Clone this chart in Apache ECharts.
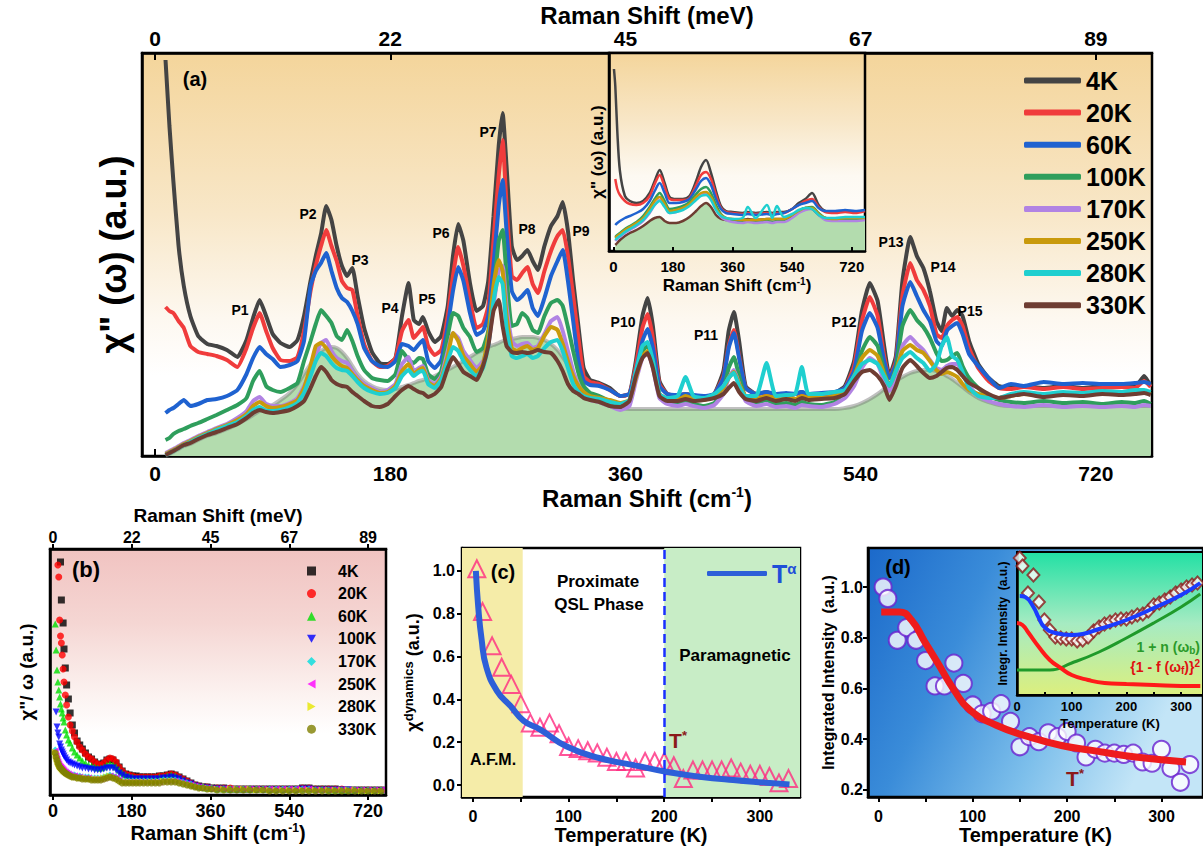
<!DOCTYPE html>
<html>
<head>
<meta charset="utf-8">
<title>Raman spectra</title>
<script src="https://cdn.jsdelivr.net/npm/echarts@6.0.0/dist/echarts.min.js"></script>
<style>
html,body{margin:0;padding:0;background:#ffffff;}
#chart{width:1203px;height:852px;}
</style>
</head>
<body>
<div id="chart"></div>
<script>
// ================= DATA =================
// ---- panel (a): Raman response chi''(omega), arbitrary units ----
const tempNames = ['4K','20K','60K','100K','170K','250K','280K','330K'];
const ramanTicks = [0,180,360,540,720];
const meVLabels = ['0','22','45','67','89'];

const ramanA = [8,11,14,18,22,27,33,40,47,55,
 63,70,75,80,85,90,96,103,109,114,
 119,123,127,131,135,139,143,147,151,155,
 160,166,172,178,184,189,194,198,202,205,
 209,214,219,224,228,232,236,241,246,251,
 255,259,263,266,269,273,277,281,285,289,
 293,298,303,308,312,316,320,324,328,333,
 340,348,356,363,368,373,377,381,386,392,
 400,406,412,420,428,435,439,443,447,452,
 460,468,475,483,490,495,500,510,520,528,
 535,541,547,553,558,562,567,572,578,583,
 588,593,598,602,606,610,614,618,623,630,
 638,646,655,665,680,695,710,725,740,750,
 757,762];

const chiA_4K = [396,330,275,210,170,140,120,112,110,106,
 99,116,138,156,140,122,113,109,116,140,
 175,200,222,250,236,210,190,180,188,160,
 128,104,93,92,98,140,173,136,132,139,
 125,114,120,150,200,232,215,173,145,150,
 175,239,310,343,290,210,196,200,206,195,
 186,210,230,240,254,225,175,130,88,76,
 73,68,60,62,95,140,158,130,75,62,
 60,62,60,58,62,85,125,144,115,70,
 62,64,60,60,62,64,60,62,63,70,
 95,145,173,155,110,80,100,175,219,200,
 188,165,135,125,148,140,146,140,115,92,
 78,70,68,70,68,70,68,70,70,69,
 80,70];
const chiA_20K = [149,145,143,135,128,110,104,102,100,96,
 89,108,128,143,125,108,96,95,99,125,
 165,190,210,226,210,195,175,168,166,140,
 112,95,89,90,98,125,136,118,124,129,
 110,101,106,140,180,209,190,156,128,132,
 150,215,280,316,250,180,176,183,189,172,
 163,185,205,220,226,200,160,118,80,74,
 72,66,60,62,90,128,142,118,72,62,
 60,62,60,59,62,80,110,126,100,68,
 62,63,60,61,62,63,60,62,63,68,
 90,135,159,140,100,78,95,160,193,176,
 166,150,122,118,130,136,139,130,108,88,
 75,68,67,69,67,69,67,68,69,68,
 75,69];
const chiA_60K = [43,46,48,52,56,50,52,56,57,60,
 66,82,98,109,102,97,89,91,95,115,
 170,185,193,203,185,168,158,154,145,132,
 108,95,90,89,95,112,110,106,112,116,
 95,88,96,130,165,189,175,143,121,125,
 140,190,250,276,225,165,156,160,166,148,
 140,158,180,195,206,175,135,95,75,71,
 70,66,60,62,85,115,127,108,70,62,
 61,62,61,60,62,78,108,123,98,68,
 62,64,62,63,62,64,62,63,64,68,
 85,125,143,128,95,78,92,150,174,160,
 146,135,115,110,125,130,133,122,102,90,
 78,68,72,70,74,72,73,72,72,73,
 74,72];
const chiA_100K = [16,18,22,25,27,30,33,37,41,46,
 51,58,75,85,70,66,64,68,73,95,
 115,132,146,140,133,120,116,126,115,100,
 86,78,76,75,82,105,96,93,98,97,
 82,77,85,120,143,140,128,119,104,108,
 125,165,215,226,180,130,132,143,138,126,
 123,140,153,156,150,129,105,83,70,63,
 60,55,50,53,80,105,110,96,62,55,
 52,54,52,50,53,65,88,99,80,58,
 53,56,52,53,51,54,52,51,54,60,
 78,105,119,110,85,70,88,130,146,136,
 129,118,103,95,96,100,103,90,78,68,
 60,56,54,53,55,53,54,52,54,53,
 55,52];
const chiA_170K = [3,5,7,10,13,16,20,24,28,32,
 38,45,55,59,52,50,50,53,58,70,
 85,100,113,116,105,98,95,93,85,78,
 72,68,64,66,72,92,99,85,88,90,
 76,72,80,105,123,118,105,96,88,95,
 110,150,185,190,150,115,110,112,113,108,
 110,122,135,139,125,105,85,70,62,56,
 54,50,46,50,75,98,103,88,58,52,
 50,52,50,48,51,62,78,86,72,55,
 50,52,49,50,48,51,50,49,52,58,
 70,88,98,92,75,65,80,110,119,112,
 106,96,88,86,90,92,92,82,70,60,
 55,52,50,49,51,49,50,49,50,49,
 51,50];
const chiA_250K = [2,4,6,9,12,15,19,23,27,31,
 36,42,50,54,50,48,49,52,56,68,
 90,110,113,108,100,94,90,88,82,76,
 70,66,63,64,70,85,92,82,86,88,
 74,70,78,100,123,115,100,92,84,92,
 120,170,196,185,140,108,105,108,110,106,
 108,120,129,126,112,95,80,70,64,60,
 58,56,53,56,78,100,105,90,62,57,
 56,60,57,56,60,68,78,84,72,60,
 57,60,58,58,57,60,58,58,60,64,
 80,98,106,100,82,70,85,105,111,106,
 103,95,86,82,84,82,79,72,66,62,
 60,58,60,62,60,62,61,63,62,63,
 64,62];
const chiA_280K = [1,3,5,8,11,14,18,22,26,30,
 34,40,46,49,45,45,46,49,53,63,
 80,95,103,100,93,88,86,85,80,74,
 68,64,62,63,68,80,86,80,84,85,
 72,68,76,95,109,105,95,86,80,88,
 110,155,179,172,128,100,98,100,102,98,
 100,108,114,116,105,88,72,64,60,58,
 57,54,52,56,85,110,114,95,62,58,
 60,79,60,58,62,70,78,83,70,60,
 60,93,60,61,62,89,62,62,64,66,
 80,92,96,92,80,70,85,98,104,98,
 93,85,92,110,119,100,96,84,68,60,
 58,58,62,64,62,64,63,65,64,66,
 66,64];
const chiA_330K = [1,3,5,8,11,13,17,21,24,28,
 32,38,43,46,44,43,44,46,50,55,
 68,80,89,84,76,72,70,69,64,60,
 55,50,49,52,60,66,70,67,64,63,
 59,62,69,88,99,92,84,80,76,90,
 110,145,156,130,110,104,103,104,103,104,
 106,104,103,95,85,72,65,62,58,56,
 54,50,49,55,80,98,103,88,60,55,
 55,57,55,56,58,62,68,73,64,57,
 55,58,55,57,55,58,56,57,58,62,
 75,84,86,80,70,56,70,88,96,90,
 83,78,80,84,88,89,86,80,73,68,
 62,58,60,62,59,61,60,62,61,62,
 63,61];
const backgroundA = [0,2,4,7,10,12,16,20,23,27,
 32,37,41,45,48,51,56,63,72,82,
 92,100,105,108,109,108,104,98,90,82,
 75,70,67,66,67,69,71,73,75,76,
 78,80,83,86,89,92,95,99,103,106,
 109,111,113,115,116,117,118,119,119,119,
 118,116,112,106,99,91,83,75,68,61,
 54,50,48,47,47,47,47,47,47,47,
 47,47,47,47,47,47,47,47,47,47,
 47,47,47,47,47,47,47,47,47,48,
 50,53,57,62,67,71,75,79,83,85,
 86,86,85,83,80,77,73,69,64,58,
 54,51,50,50,50,50,50,50,50,50,
 50,50];

// ---- panel (a) inset ----
const ramanInset = [2,6,12,20,35,50,70,90,110,125,140,155,170,190,210,230,250,265,280,295,310,325,340,360,390,406,430,464,480,494,515,540,560,580,600,620,640,670,700,730,760];
const inset_4K  = [182,165,120,80,55,50,48,50,58,70,81,68,54,52,52,55,70,84,91,78,60,45,40,39,38,39,38,39,38,39,39,42,48,52,58,46,40,39,40,39,41];
const inset_20K = [null,72,62,56,50,47,46,48,55,67,76,64,52,51,51,53,66,76,79,72,56,43,39,38,37,38,37,38,37,38,38,42,46,50,52,44,39,38,39,38,40];
const inset_60K = [null,26,28,30,33,35,38,42,50,60,68,58,48,48,49,52,62,70,73,66,52,42,38,37,36,37,36,37,36,37,38,42,46,48,50,43,40,40,41,40,41];
const inset_100K= [null,14,16,18,22,25,29,35,44,52,58,50,42,43,45,49,57,62,64,58,46,37,33,31,30,30,29,30,29,30,31,35,40,43,44,38,33,31,31,31,32];
const inset_170K= [null,10,12,14,18,21,25,30,38,46,51,45,38,39,42,46,52,57,58,53,42,34,31,29,28,29,28,29,28,29,29,33,38,41,42,36,31,30,30,30,31];
const inset_250K= [null,13,15,17,21,24,28,33,42,50,54,47,40,41,43,47,54,58,59,54,43,36,33,32,31,31,31,32,32,32,32,36,40,43,43,37,33,32,33,33,33];
const inset_280K= [null,11,13,15,19,22,26,31,39,46,50,44,38,39,41,45,51,55,56,51,41,35,33,32,33,44,33,46,33,45,34,37,41,43,42,36,33,33,34,34,34];
const inset_330K= [null,6,8,11,15,18,21,25,30,33,34,30,28,28,30,34,40,45,48,44,36,32,31,31,31,32,31,32,32,32,32,35,40,43,42,36,33,32,33,33,33];

// ---- panel (b): chi''/omega ----
const ramanB = [5,7,9,11,13,15,17,19,21,23,25,
 28,31,35,39,44,49,55,61,67,74,81,
 88,95,102,109,116,123,130,137,144,151,158,
 166,174,182,190,198,207,216,225,234,243,252,
 261,270,279,288,297,306,315,324,333,342,352,362,
 375,390,405,420,435,450,465,480,495,510,525,540,555,570,585,600,615,630,645,660,675,690,705,720,735,750];
const chiW_4K = [null,null,null,null,null,null,233,195,null,172,146,
 127,110,96,82,70,62,54,50,46,42,38,
 36,33,31,30,32,35,36,35,32,28,24,
 21,20,19,19,18,18,18,18,18,19,19,
 20,21,20,18,16,14,12,10,9,8,8,7,
 7,7,6,6,6,6,6,6,6,6,6,6,6,7,7,6,6,6,6,5,5,5,5,5,5,5];
const chiW_20K = [null,null,null,230,218,175,159,152,140,126,113,
 100,90,78,70,64,58,53,48,45,41,38,
 36,33,31,30,32,35,37,36,33,28,24,
 21,20,19,18,18,18,18,18,18,19,19,
 20,21,20,18,16,14,12,10,9,8,8,7,
 7,7,7,6,6,6,6,6,6,6,6,6,6,7,7,6,6,6,6,6,5,5,5,5,5,5];
const chiW_60K = [171,145,125,113,105,98,91,86,82,77,73,
 65,60,55,52,47,43,40,37,34,32,30,
 29,28,27,27,28,30,31,30,28,25,22,
 20,19,18,17,17,17,17,17,17,18,18,
 19,20,19,17,15,13,11,10,9,8,7,7,
 6,6,6,6,6,6,6,6,6,6,6,6,6,6,6,6,6,5,5,5,5,5,5,5,5,5];
const chiW_100K = [null,83,68,62,58,51,48,45,43,41,39,
 37,35,33,32,31,30,29,28,27,27,26,
 26,25,25,25,26,27,27,27,25,22,20,
 18,17,16,16,16,16,16,16,16,16,17,
 17,18,17,16,14,12,11,9,8,7,7,6,
 6,6,5,5,5,5,5,5,5,5,5,5,5,6,6,5,5,5,5,5,5,4,4,4,4,4];
const chiW_170K = [45,40,37,34,32,30,29,28,27,26,25,
 24,23,22,21,20,20,19,19,18,18,18,
 17,17,17,17,18,19,20,19,18,16,14,
 14,14,14,14,14,14,14,14,14,14,15,
 15,15,15,14,13,12,11,9,8,8,7,7,
 6,6,6,6,6,6,6,6,6,6,6,6,6,6,6,5,5,5,5,5,5,5,5,5,5,5];
const chiW_250K = [44,39,36,33,31,29,28,27,26,25,24,
 23,22,21,20,19,19,18,18,17,17,17,
 16,16,16,16,17,18,19,18,17,15,13,
 13,13,13,13,13,13,13,13,13,13,14,
 14,14,14,13,12,11,10,9,8,7,7,6,
 6,6,6,6,6,6,6,6,6,6,6,6,6,6,6,5,5,5,5,5,5,5,5,5,5,5];
const chiW_280K = [43,39,36,33,31,29,28,27,26,25,24,
 23,22,21,20,19,18,18,17,17,17,16,
 16,16,16,16,17,18,19,18,17,15,13,
 13,13,13,13,13,13,13,13,13,13,14,
 14,14,14,13,12,11,10,9,8,7,7,6,
 6,6,6,6,6,6,5,5,5,5,5,5,5,5,5,5,5,5,5,5,5,5,4,4,4,4];
const chiW_330K = [42,38,35,32,30,28,27,26,25,24,23,
 22,21,20,19,18,18,17,17,16,16,16,
 15,15,15,15,16,17,18,17,16,14,12,
 12,12,12,12,12,12,12,12,12,12,13,
 13,13,13,12,11,10,9,8,7,7,6,6,
 5,5,5,5,5,5,5,5,4,4,4,4,4,4,4,4,4,4,4,4,4,4,4,4,4,4];

// ---- panel (c): chi dynamics vs T ----
const tempC = [4,10,20,30,40,50,60,70,80,90,100,110,120,130,140,150,160,170,180,190,200,210,220,230,240,250,260,270,280,290,300,310,320,330];
const chiDynamics = [1.01,0.81,0.65,0.55,0.47,0.38,0.29,0.27,0.29,0.24,0.18,0.17,0.16,0.15,0.13,0.11,0.11,0.08,0.11,0.11,0.11,0.09,0.03,0.07,0.07,0.07,0.07,0.08,0.06,0.05,0.05,0.04,0.01,0.03];
const fitTempC = [3,5.5,9,14,25,39,53,70,98,133,168,202,237,272,307,331];
const fitChiC  = [1.0,0.83,0.68,0.55,0.44,0.37,0.30,0.26,0.18,0.125,0.093,0.062,0.039,0.023,0.011,0.003];
const afmBoundary = 52;
const tStar = 200;

// ---- panel (d): integrated intensity vs T ----
const tempD = [5,10,20,30,40,50,60,70,80,90,100,110,120,130,140,150,160,170,180,190,200,210,220,230,240,250,260,270,280,290,300,310,320,330];
const intensityD = [1.0,0.955,0.79,0.84,0.79,0.71,0.61,0.61,0.70,0.62,0.535,0.50,0.51,0.54,0.47,0.37,0.41,0.39,0.425,0.41,0.43,0.385,0.33,0.36,0.345,0.345,0.34,0.345,0.31,0.305,0.36,0.285,0.23,0.30];
const fitTempD = [3,22,35,49,63,80,97,125,159,194,228,262,297,326];
const fitIntD  = [0.902,0.902,0.87,0.785,0.70,0.595,0.515,0.455,0.41,0.375,0.355,0.335,0.32,0.31];

// ---- panel (d) inset ----
const tempDI = [5,10,20,30,40,50,60,70,80,90,100,110,120,130,140,150,160,170,180,190,200,210,220,230,240,250,260,270,280,290,300,310,320,330];
const integrDI = [137,129,102,120,93,75,65,58,57,56,56,54,55,58,64,68,71,73,75,76,76,78,80,81,84,90,92,95,98,102,105,108,110,112];
const fitTempDI = [5,15,30,40,50,70,100,120,150,200,250,300,335];
const fitIntDI  = [99,98,88,77,68,62,60,61,66,75,87,100,112];
const bosonT = [0,60,100,150,200,250,300,335];
const bosonV = [25,25,32,43,57,72,88,101];
const fermiT = [0,10,20,40,60,80,100,130,160,200,250,300,335];
const fermiV = [72,70,63,48,35,27,20,15,12,11,10,9,9];

// ================= CHART =================
const FF = '"Liberation Sans", Arial, Helvetica, sans-serif';
function tx(size, color){ return {fontFamily: FF, fontWeight: 'bold', fontSize: size, color: color || '#000'}; }
function grad(x2, y2, stops){ return {type:'linear', x:0, y:0, x2:x2, y2:y2, colorStops: stops.map(s => ({offset: s[0], color: s[1]}))}; }
function pairs(xs, ys){ const out = []; xs.forEach((x, i) => { if (ys[i] !== null && ys[i] !== undefined) out.push([x, ys[i]]); }); return out; }

function axis(gi, min, max, o){
  const a = {
    gridIndex: gi, type: 'value', min: min, max: max, z: o.z || 0,
    splitLine: {show: false},
    axisLine: {show: true, onZero: false, lineStyle: {color: '#000', width: 2.5}},
    axisTick: {show: !!o.ticks, inside: !!o.tickInside, length: o.tickLen || 5, lineStyle: {color: '#000', width: 2}},
    axisLabel: Object.assign({show: !!o.labels, margin: o.margin || 6}, tx(o.fs || 16)),
    name: o.name || '', nameLocation: 'middle', nameGap: o.nameGap || 30,
    nameTextStyle: Object.assign(tx(o.nfs || 18), o.rich ? {rich: o.rich} : {})
  };
  if (o.ticks) a.axisTick.customValues = o.ticks;
  if (o.labels) a.axisLabel.customValues = o.labels;
  if (o.fmt) a.axisLabel.formatter = o.fmt;
  if (o.position) a.position = o.position;
  return a;
}
const meVFmt = v => meVLabels[ramanTicks.indexOf(v)];
const oneDec = v => v.toFixed(1);
function cmRich(size){ return {a: tx(size), s: Object.assign(tx(Math.round(size*0.6)), {verticalAlign: 'top', padding: [0,0,Math.round(size*0.5),0]})}; }

const colorsA = ['#444444','#f03c3c','#1f62d0','#2f9e5c','#b183e3','#c99a0c','#1fcfcf','#6e3d32'];
const chiA = [chiA_4K, chiA_20K, chiA_60K, chiA_100K, chiA_170K, chiA_250K, chiA_280K, chiA_330K];
const insetA = [inset_4K, inset_20K, inset_60K, inset_100K, inset_170K, inset_250K, inset_280K, inset_330K];
const chiW = [chiW_4K, chiW_20K, chiW_60K, chiW_100K, chiW_170K, chiW_250K, chiW_280K, chiW_330K];
const symB = ['rect','circle','triangle','path://M0,0L10,0L5,9Z','diamond','path://M9,0L9,10L0,5Z','path://M0,0L0,10L9,5Z','circle'];
const colB = ['#000000','#ff0000','#00dd00','#0000ff','#00dddd','#ff00ff','#e6e600','#808000'];

const series = [];
// (a) smooth background + green fill
series.push({type:'line', name:'bgA', xAxisIndex:0, yAxisIndex:0, data: pairs(ramanA, backgroundA), showSymbol:false, smooth:0.4, silent:true,
  lineStyle:{width:4, color:'rgba(115,115,115,0.45)'}, areaStyle:{color:'#b3dcae', opacity:1}, z:2});
tempNames.forEach((n, k) => series.push({type:'line', name:n, xAxisIndex:0, yAxisIndex:0, data: pairs(ramanA, chiA[k]), showSymbol:false, smooth:0.15,
  lineStyle:{width:4, color:colorsA[k]}, itemStyle:{color:colorsA[k]}, z:3}));
// (a) inset
tempNames.forEach((n, k) => {
  const s = {type:'line', name:'i'+n, xAxisIndex:2, yAxisIndex:1, data: pairs(ramanInset, insetA[k]), showSymbol:false, smooth:0.3,
    lineStyle:{width:2.5, color:colorsA[k]}, itemStyle:{color:colorsA[k]}, z: 12};
  if (k === 7) { s.areaStyle = {color:'#b3dcae', opacity:1}; s.z = 11; }
  series.push(s);
});
// (b)
tempNames.forEach((n, k) => series.push({type:'scatter', name:'b'+n, xAxisIndex:3, yAxisIndex:2, data: pairs(ramanB, chiW[k]),
  symbol: symB[k], symbolSize: 7, itemStyle:{color: colB[k]}, z:3}));
// (c)
series.push({type:'line', name:'phaseAreas', xAxisIndex:5, yAxisIndex:3, data:[], z:1, silent:true,
  markArea:{silent:true, itemStyle:{opacity:1}, data:[[{xAxis:-11.5, itemStyle:{color:'#f5eca8', opacity:1}},{xAxis:afmBoundary}],[{xAxis:tStar, itemStyle:{color:'#c8edc6', opacity:1}},{xAxis:342}]]}});
series.push({type:'line', name:'tStarLine', xAxisIndex:5, yAxisIndex:3, data:[], z:2, silent:true,
  markLine:{silent:true, symbol:'none', label:{show:false}, lineStyle:{color:'#1a30ff', width:2.5, type:[9,5]}, data:[{xAxis:tStar}]}});
series.push({type:'scatter', name:'chiDyn', xAxisIndex:5, yAxisIndex:3, data: pairs(tempC, chiDynamics), symbol:'triangle', symbolSize:17,
  itemStyle:{color:'rgba(255,255,255,0)', borderColor:'#ff2a7f', borderWidth:2}, z:3});
series.push({type:'line', name:'Tα', xAxisIndex:5, yAxisIndex:3, data: pairs(fitTempC, fitChiC), smooth:true, showSymbol:false,
  lineStyle:{width:6, color:'#2d5fd8'}, itemStyle:{color:'#2d5fd8'}, z:4});
// (d)
series.push({type:'scatter', name:'intD', xAxisIndex:6, yAxisIndex:4, data: pairs(tempD, intensityD), symbol:'circle', symbolSize:17,
  itemStyle:{color:'#ffffff', borderColor:'#6a22d0', borderWidth:2}, z:3});
series.push({type:'line', name:'fitD', xAxisIndex:6, yAxisIndex:4, data: pairs(fitTempD, fitIntD), smooth:true, showSymbol:false,
  lineStyle:{width:7, color:'#ee1c1c'}, z:4});
// (d) inset
series.push({type:'line', name:'boson', xAxisIndex:7, yAxisIndex:5, data: pairs(bosonT, bosonV), smooth:true, showSymbol:false,
  lineStyle:{width:3, color:'#1f9a2a'}, z:12});
series.push({type:'line', name:'fermi', xAxisIndex:7, yAxisIndex:5, data: pairs(fermiT, fermiV), smooth:true, showSymbol:false,
  lineStyle:{width:4, color:'#ff1a1a'}, z:12});
series.push({type:'scatter', name:'diamonds', xAxisIndex:7, yAxisIndex:5, data: pairs(tempDI, integrDI), symbol:'diamond', symbolSize:[12,13],
  itemStyle:{color:'#ffffff', borderColor:'#8b1a1a', borderWidth:2}, z:13});
series.push({type:'line', name:'fitDI', xAxisIndex:7, yAxisIndex:5, data: pairs(fitTempDI, fitIntDI), smooth:true, showSymbol:false,
  lineStyle:{width:4, color:'#1a3cff'}, z:14});

function label(x, y, text, size, color, align){
  return {type:'text', x:x, y:y, z:100, silent:true, style:{text:text, fontFamily:FF, fontWeight:'bold', fontSize:size, fill: color || '#000', align: align || 'center', verticalAlign:'middle'}};
}
function richLabel(x, y, text, rich, align){
  return {type:'text', x:x, y:y, z:100, silent:true, style:{text:text, rich:rich, fontFamily:FF, fontWeight:'bold', fontSize:rich.a.fontSize, fill: rich.a.fill, align: align || 'center', verticalAlign:'middle'}};
}
const peakLabels = [['P1',240,310],['P2',308,214],['P3',360,260],['P4',390,308],['P5',427,299],['P6',441,233],['P7',488,132],['P8',527,229],['P9',581,231],['P10',623,322],['P11',706,335],['P12',844,322],['P13',891,242],['P14',943,267],['P15',970,311]];

const tStarRich = {a:{fontFamily:FF, fontWeight:'bold', fontSize:21, fill:'#8b1a1a'}, s:{fontFamily:FF, fontWeight:'bold', fontSize:13, fill:'#8b1a1a', verticalAlign:'top', padding:[0,0,10,0]}};

const option = {
  animation: false,
  backgroundColor: '#ffffff',
  grid: [
    {left:142, top:53, width:1010, height:403, show:true, borderColor:'#000', borderWidth:2.5, z:0,
      backgroundColor: grad(0,1,[[0,'#f4d59b'],[0.4,'#f8e7c8'],[0.66,'#fdf8f0'],[0.8,'#ffffff'],[1,'#ffffff']])},
    {left:609, top:53, width:256, height:198, show:true, borderColor:'#000', borderWidth:2.5, z:10,
      backgroundColor: grad(0,1,[[0,'#f4d59b'],[0.35,'#f8e7c8'],[0.62,'#fdf9f2'],[1,'#ffffff']])},
    {left:50, top:549, width:336, height:246, show:true, borderColor:'#000', borderWidth:2.5, z:0,
      backgroundColor: grad(0,1,[[0,'#f1c3c1'],[0.3,'#f5d6d3'],[0.6,'#fcf3f1'],[0.75,'#ffffff'],[1,'#ffffff']])},
    {left:462, top:548, width:338, height:249, show:true, borderColor:'#000', borderWidth:2.5, z:0, backgroundColor:'#ffffff'},
    {left:868, top:548, width:345, height:249, show:true, borderColor:'#000', borderWidth:2.5, z:0,
      backgroundColor: grad(1,0.35,[[0,'#1b69ca'],[0.35,'#3a8cd9'],[0.7,'#7dbfeb'],[1,'#c3e5f7']])},
    {left:1017, top:552, width:193, height:143, show:true, borderColor:'#000', borderWidth:2, z:10,
      backgroundColor: grad(0,1,[[0,'#22e0a4'],[0.5,'#a6ebc2'],[1,'#dcef7e']])}
  ],
  xAxis: [
    axis(0, -10, 763, {ticks: ramanTicks, tickInside:true, tickLen:7, labels: ramanTicks, fs:21, margin:7,
      name:'{a|Raman Shift (cm}{s|-1}{a|)}', nameGap:29, nfs:24, rich: cmRich(24)}),
    axis(0, -10, 763, {position:'top', ticks: ramanTicks, tickInside:true, tickLen:7, labels: ramanTicks, fmt: meVFmt, fs:21, margin:4,
      name:'Raman Shift (meV)', nameGap:24, nfs:24}),
    axis(1, -13, 760, {z:11, ticks: ramanTicks, tickInside:true, tickLen:4, labels: ramanTicks, fs:15, margin:8,
      name:'{a|Raman Shift (cm}{s|-1}{a|)}', nameGap:25, nfs:17, rich: cmRich(17)}),
    axis(2, -7, 761, {ticks: ramanTicks, labels: ramanTicks, fs:18, margin:7,
      name:'{a|Raman Shift (cm}{s|-1}{a|)}', nameGap:27, nfs:20, rich: cmRich(20)}),
    axis(2, -7, 761, {position:'top', ticks: ramanTicks, labels: ramanTicks, fmt: meVFmt, fs:16, margin:4,
      name:'Raman Shift (meV)', nameGap:24, nfs:19}),
    axis(3, -11.5, 342, {ticks:[0,50,100,150,200,250,300], labels:[0,100,200,300], fs:16, margin:11,
      name:'Temperature (K)', nameGap:27, nfs:20}),
    axis(4, -11, 344, {ticks:[0,50,100,150,200,250,300], labels:[0,100,200,300], fs:16, margin:11,
      name:'Temperature (K)', nameGap:27, nfs:20}),
    axis(5, 0, 340, {z:11, ticks:[0,50,100,150,200,250,300], tickInside:true, tickLen:3, labels:[0,100,200,300], fs:13, margin:5,
      name:'Temperature (K)', nameGap:22, nfs:13})
  ],
  yAxis: [
    axis(0, 0, 403, {name:'χ" (ω) (a.u.)', nameGap:11, nfs:36}),
    axis(1, 0, 198, {z:11, name:'χ" (ω) (a.u.)', nameGap:3, nfs:17}),
    axis(2, 0, 246, {name:'χ"/ ω (a.u.)', nameGap:14, nfs:19}),
    axis(3, -0.056, 1.107, {ticks:[0,0.2,0.4,0.6,0.8,1.0], labels:[0,0.2,0.4,0.6,0.8,1.0], fmt: oneDec, fs:16, margin:7,
      name:'{a|χ}{s|dynamics}{a| (a.u.)}', nameGap:38, nfs:18,
      rich:{a: tx(18), s: Object.assign(tx(13), {verticalAlign:'top', padding:[0,0,9,0]})}}),
    axis(4, 0.172, 1.154, {ticks:[0.2,0.4,0.6,0.8,1.0], labels:[0.2,0.4,0.6,0.8,1.0], fmt: oneDec, fs:16, margin:5,
      name:'Integrated Intensity  (a.u.)', nameGap:28, nfs:16}),
    axis(5, 0, 143, {z:11, name:'Integr. Intensity  (a.u.)', nameGap:8, nfs:12})
  ],
  legend: [
    {data: tempNames, orient:'vertical', left:1019, top:63, itemWidth:57, itemHeight:6, itemGap:7.1, icon:'roundRect', selectedMode:false,
      textStyle: Object.assign(tx(25), {lineHeight:23})},
    {data: tempNames.map(n => 'b'+n), formatter: n => n.slice(1), orient:'vertical', left:302, top:558, itemWidth:9, itemHeight:9, itemGap:6.6,
      selectedMode:false, textStyle: Object.assign(tx(16), {lineHeight:16, padding:[0,0,0,17]})},
    {data:['Tα'], formatter: () => '{t|T}{s|α}', left:702, top:556, itemWidth:60, itemHeight:5, icon:'roundRect', selectedMode:false,
      textStyle:{rich:{t: tx(25,'#1f4fd8'), s: Object.assign(tx(15,'#1f4fd8'), {verticalAlign:'top', padding:[0,0,10,0]})}}}
  ],
  graphic: [
    label(195, 79, '(a)', 20),
    ...peakLabels.map(p => label(p[1], p[2], p[0], 14)),
    label(86, 569, '(b)', 22),
    label(503, 572, '(c)', 20),
    label(598, 581, 'Proximate', 17),
    label(599, 604, 'QSL Phase', 17),
    label(735, 655, 'Paramagnetic', 17),
    label(493, 759, 'A.F.M.', 16),
    richLabel(678, 740, '{a|T}{s|*}', tStarRich),
    label(898, 567, '(d)', 20),
    richLabel(1075, 778, '{a|T}{s|*}', tStarRich),
    richLabel(1200, 647, '{a|1 + n (ω}{b|b}{a|)}', {a:{fontFamily:FF, fontWeight:'bold', fontSize:14, fill:'#2a9a2a'}, b:{fontFamily:FF, fontWeight:'bold', fontSize:10, fill:'#2a9a2a', verticalAlign:'bottom', padding:[6,0,0,0]}}, 'right'),
    richLabel(1200, 667, '{a|{1 - f (ω}{b|f}{a|)}}{s|2}', {a:{fontFamily:FF, fontWeight:'bold', fontSize:14, fill:'#e01010'}, b:{fontFamily:FF, fontWeight:'bold', fontSize:10, fill:'#e01010', verticalAlign:'bottom', padding:[6,0,0,0]}, s:{fontFamily:FF, fontWeight:'bold', fontSize:10, fill:'#e01010', verticalAlign:'top', padding:[0,0,7,0]}}, 'right')
  ],
  series: series
};

const chart = echarts.init(document.getElementById('chart'), null, {renderer:'svg', width:1203, height:852});
chart.setOption(option);
</script>
</body>
</html>
